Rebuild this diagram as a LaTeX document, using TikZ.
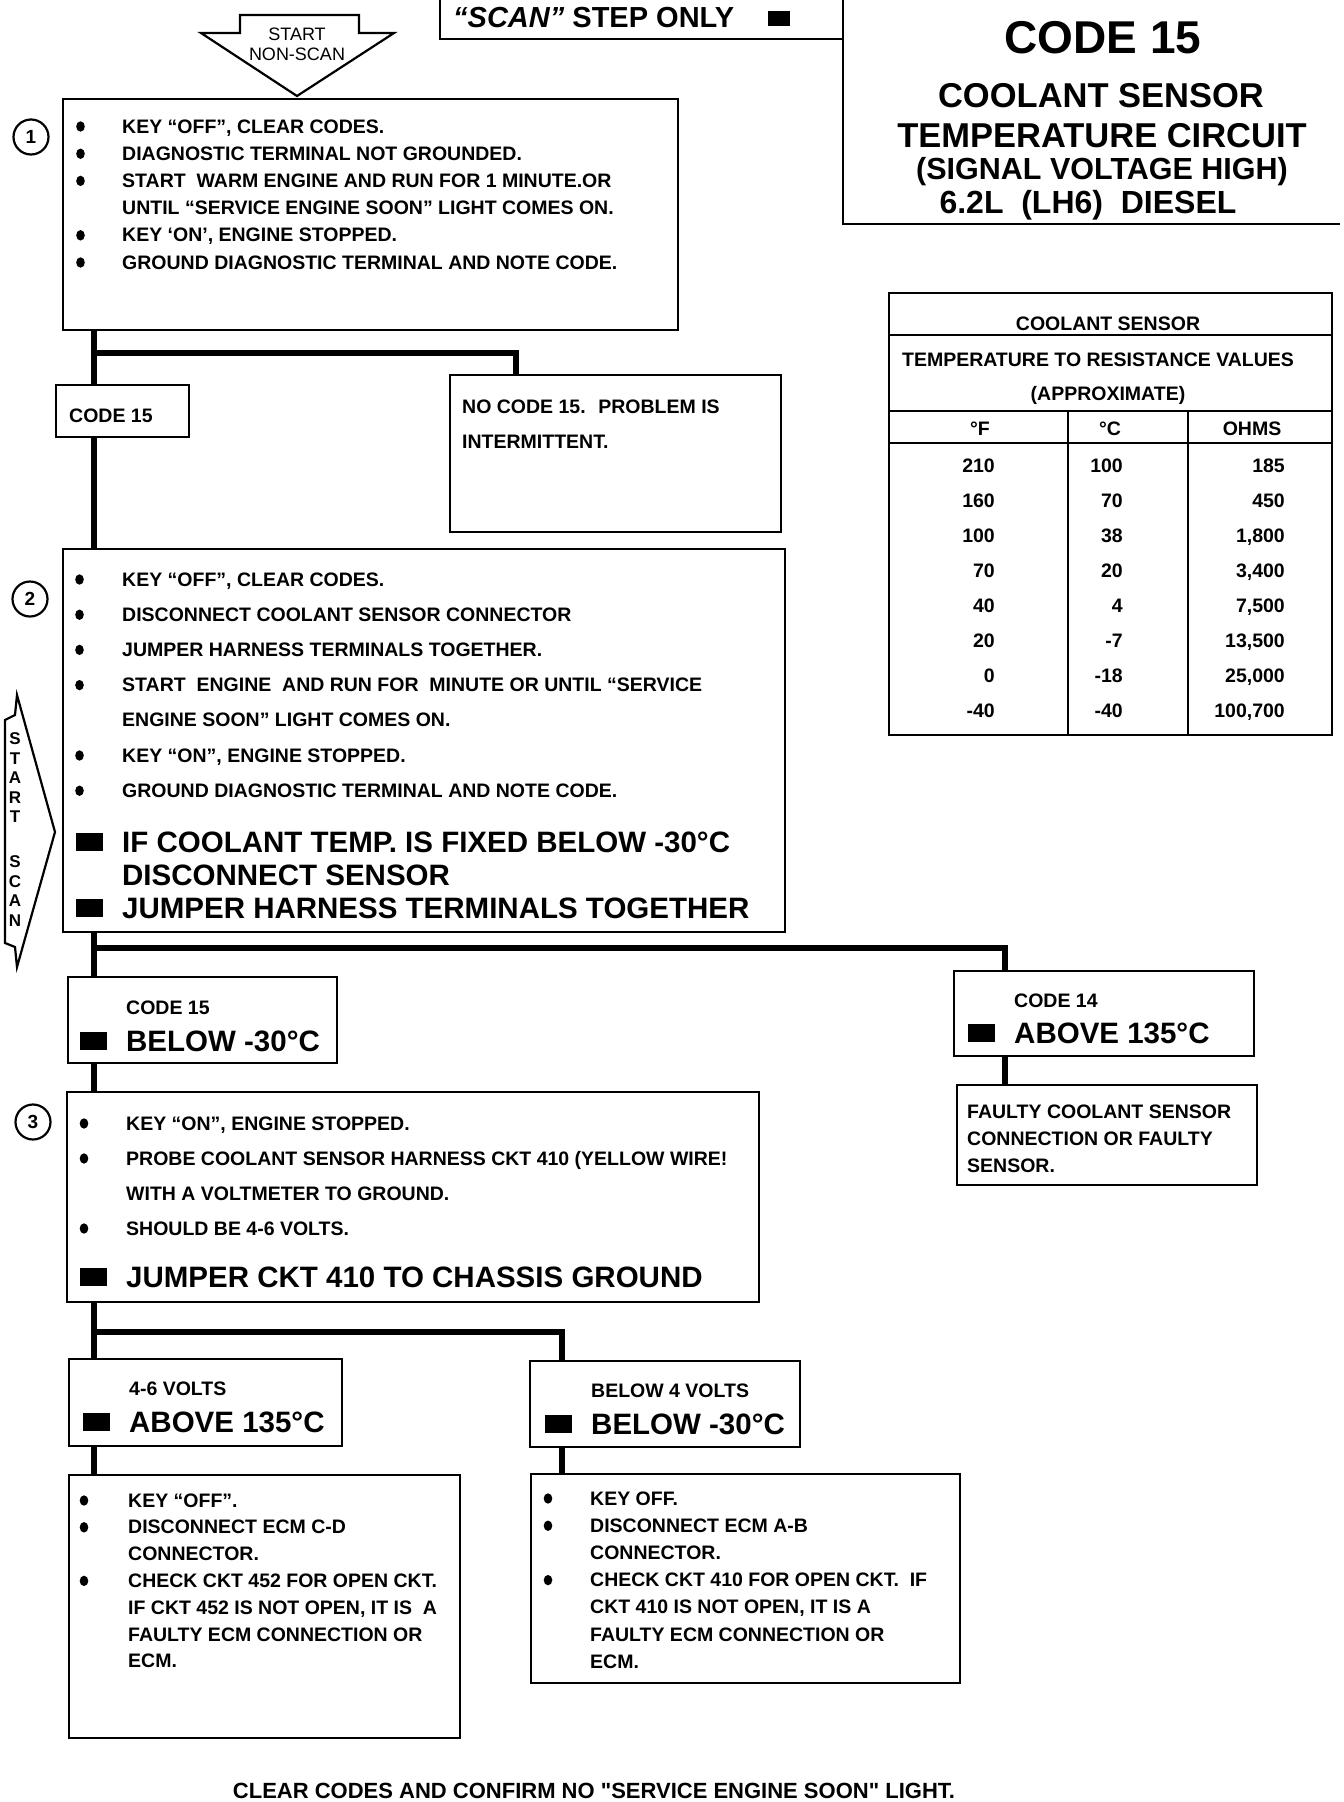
\documentclass[tikz,border=0pt]{standalone}
\usepackage{fontspec}
\setmainfont{Liberation Sans}
\newcommand{\fsz}[2]{\fontsize{#1}{#2}\selectfont}
\newcommand{\lst}[1]{\parbox[t]{760pt}{\raggedright #1}}
\newcommand{\ind}{\hspace*{46pt}}
\newcommand{\blk}{\makebox[46pt][l]{\raisebox{1pt}{\rule{27pt}{18pt}}}}

\begin{document}
\begin{tikzpicture}[x=1pt, y=-1pt,
    box/.style={draw, line width=2.4pt, anchor=north west, inner sep=0pt, outer sep=0pt},
    txt/.style={anchor=base west, inner sep=0pt, font=\bfseries\fsz{19.5}{#1}},
    txt/.default=27,
    big/.style={anchor=base west, inner sep=0pt, font=\bfseries\fsz{29.5}{#1}},
    big/.default=33,
    num/.style={circle, draw, line width=2.2pt, minimum size=35pt, inner sep=0pt, font=\bfseries\fsz{19}{19}},
    conn/.style={line width=6pt},
    frame/.style={line width=2.4pt},
    dot/.style={fill, x radius=4.3, y radius=5.2},
]
    \useasboundingbox (0,0) rectangle (1344,1802);

    \draw[frame] (440,0) -- (440,39) -- (843,39);
    \draw[frame] (843,0) -- (843,224) -- (1340,224);
    \node[anchor=base west, inner sep=0pt, font=\bfseries\fsz{29}{29}] (scanonly) at (453,27) {\textit{``SCAN''}~STEP ONLY\hspace{34pt}\raisebox{1pt}{\rule{22pt}{15pt}}};

    \node[anchor=base, font=\bfseries\fsz{46}{46}] (title) at (1103,53) {CODE 15};
    \node[anchor=base, font=\bfseries\fsz{34.5}{35}] (sub1) at (1101,107) {COOLANT SENSOR};
    \node[anchor=base, font=\bfseries\fsz{34.5}{35}] (sub2) at (1102,147) {TEMPERATURE CIRCUIT};
    \node[anchor=base, font=\bfseries\fsz{30.5}{31}] (sub3) at (1102,179) {(SIGNAL VOLTAGE HIGH)};
    \node[anchor=base, font=\bfseries\fsz{32}{32}] (sub4) at (1088,213) {6.2L~ (LH6)~ DIESEL};

    \draw[frame, line width=2.2pt] (240,15) -- (359,15) -- (359,33) -- (394,33) -- (297,96) -- (201,33) -- (240,33) -- cycle;
    \node[anchor=base, inner sep=0pt, font=\fsz{18}{20}] (nonscan) at (297,40) {\parbox[t]{120pt}{\centering START\\NON-SCAN}};

    \draw[frame, line width=2.2pt] (17,695) -- (55,832) -- (17,967) -- (15,947) -- (5,943) -- (5,720) -- (15,715) -- cycle;
    \node[anchor=base, inner sep=0pt, font=\bfseries\fsz{17}{19.5}] (scanv) at (15,744.5) {\parbox[t]{20pt}{\centering S\\T\\A\\R\\T\\[25.5pt]S\\C\\A\\N}};

    \node[num] (n1) at (31,137) {1};
    \node[num] (n2) at (30,599) {2};
    \node[num] (n3) at (33,1122) {3};

    \node[box, minimum width=615pt, minimum height=231pt] (s1) at (63,99) {};
    \node[txt=27.2] (s1t) at (76,133) {\lst{\ind KEY ``OFF'', CLEAR CODES.\\
        \ind DIAGNOSTIC TERMINAL NOT GROUNDED.\\
        \ind START~ WARM ENGINE AND RUN FOR 1 MINUTE.OR\\
        \ind UNTIL ``SERVICE ENGINE SOON'' LIGHT COMES ON.\\
        \ind KEY `ON', ENGINE STOPPED.\\
        \ind GROUND DIAGNOSTIC TERMINAL AND NOTE CODE.}};
    \foreach \yy in {133,160.2,187.4,241.8,269}
        \path[dot] (80.5,\yy-6.5) ellipse [];

    \node[box, minimum width=133pt, minimum height=52pt] (c15a) at (56,385) {};
    \node[txt] (c15at) at (69,422) {CODE 15};
    \node[box, minimum width=331pt, minimum height=157pt] (nocode) at (450,375) {};
    \node[txt=35] (nocodet) at (462,413) {\lst{NO CODE 15.~ PROBLEM IS\\ INTERMITTENT.}};

    \node[box, minimum width=722pt, minimum height=383pt] (s2) at (63,549) {};
    \node[txt=35.2] (s2t) at (76,586) {\lst{\ind KEY ``OFF'', CLEAR CODES.\\
        \ind DISCONNECT COOLANT SENSOR CONNECTOR\\
        \ind JUMPER HARNESS TERMINALS TOGETHER.\\
        \ind START~ ENGINE~ AND RUN FOR~ MINUTE OR UNTIL ``SERVICE\\
        \ind ENGINE SOON'' LIGHT COMES ON.\\
        \ind KEY ``ON'', ENGINE STOPPED.\\
        \ind GROUND DIAGNOSTIC TERMINAL AND NOTE CODE.}};
    \foreach \yy in {586,621.2,656.4,691.6,762,797.2}
        \path[dot] (79.5,\yy-6.5) ellipse [];
    \node[big] (s2b) at (76,852) {\lst{\blk IF COOLANT TEMP. IS FIXED BELOW -30°C\\
        \ind DISCONNECT SENSOR\\
        \blk JUMPER HARNESS TERMINALS TOGETHER}};

    \node[box, minimum width=269pt, minimum height=86pt] (c15b) at (68,977) {};
    \node[txt=37] (c15bt) at (80,1014) {\lst{\ind CODE 15\\ {\fsz{29.5}{37}\blk BELOW -30°C}}};
    \node[box, minimum width=300pt, minimum height=85pt] (c14) at (954,971) {};
    \node[txt=36] (c14t) at (968,1007) {\lst{\ind CODE 14\\ {\fsz{29.5}{36}\blk ABOVE 135°C}}};
    \node[box, minimum width=300pt, minimum height=100pt] (faulty) at (957,1085) {};
    \node[txt=27] (faultyt) at (967,1118) {\lst{FAULTY COOLANT SENSOR\\ CONNECTION OR FAULTY\\ SENSOR.}};

    \node[box, minimum width=692pt, minimum height=210pt] (s3) at (67,1092) {};
    \node[txt=35] (s3t) at (80,1130) {\lst{\ind KEY ``ON'', ENGINE STOPPED.\\
        \ind PROBE COOLANT SENSOR HARNESS CKT 410 (YELLOW WIRE!\\
        \ind WITH A VOLTMETER TO GROUND.\\
        \ind SHOULD BE 4-6 VOLTS.}};
    \foreach \yy in {1130,1165,1235}
        \path[dot] (84,\yy-6.5) ellipse [];
    \node[big] (s3b) at (80,1287) {\blk JUMPER CKT 410 TO CHASSIS GROUND};

    \node[box, minimum width=273pt, minimum height=87pt] (v46) at (69,1359) {};
    \node[txt=37] (v46t) at (83,1395) {\lst{\ind 4-6 VOLTS\\ {\fsz{29.5}{37}\blk ABOVE 135°C}}};
    \node[box, minimum width=270pt, minimum height=86pt] (vlow) at (530,1361) {};
    \node[txt=37] (vlowt) at (545,1397) {\lst{\ind BELOW 4 VOLTS\\ {\fsz{29.5}{37}\blk BELOW -30°C}}};

    \node[box, minimum width=391pt, minimum height=263pt] (s4a) at (69,1475) {};
    \node[txt=26.8] (s4at) at (82,1507) {\lst{\ind KEY ``OFF''.\\
        \ind DISCONNECT ECM C-D\\
        \ind CONNECTOR.\\
        \ind CHECK CKT 452 FOR OPEN CKT.\\
        \ind IF CKT 452 IS NOT OPEN, IT IS~ A\\
        \ind FAULTY ECM CONNECTION OR\\
        \ind ECM.}};
    \foreach \yy in {1507,1533.8,1587.4}
        \path[dot] (84,\yy-6.5) ellipse [];
    \node[box, minimum width=429pt, minimum height=209pt] (s4b) at (531,1474) {};
    \node[txt=27.2] (s4bt) at (544,1505) {\lst{\ind KEY OFF.\\
        \ind DISCONNECT ECM A-B\\
        \ind CONNECTOR.\\
        \ind CHECK CKT 410 FOR OPEN CKT.~ IF\\
        \ind CKT 410 IS NOT OPEN, IT IS A\\
        \ind FAULTY ECM CONNECTION OR\\
        \ind ECM.}};
    \foreach \yy in {1505,1532.2,1586.6}
        \path[dot] (548,\yy-6.5) ellipse [];

    \node[box, minimum width=443pt, minimum height=442pt] (tab) at (889,293) {};
    \draw[frame] (889,335) -- (1332,335);
    \draw[frame] (889,411) -- (1332,411);
    \draw[frame] (889,443) -- (1332,443);
    \draw[frame] (1068,411) -- (1068,735);
    \draw[frame] (1188,411) -- (1188,735);
    \node[txt, anchor=base] (tabh1) at (1108,330) {COOLANT SENSOR};
    \node[txt, anchor=base] (tabh2) at (1098,366) {TEMPERATURE TO RESISTANCE VALUES};
    \node[txt, anchor=base] (tabh3) at (1108,400) {(APPROXIMATE)};
    \node[txt, anchor=base] (colF) at (980,435) {°F};
    \node[txt, anchor=base] (colC) at (1110,435) {°C};
    \node[txt, anchor=base] (colR) at (1252,435) {OHMS};
    \foreach \f/\c/\r [count=\i] in {210/100/185, 160/70/450, 100/38/{1,800}, 70/20/{3,400}, 40/4/{7,500}, 20/-7/{13,500}, 0/-18/{25,000}, -40/-40/{100,700}} {
        \node[txt, anchor=base east] (tf\i) at (995,437+35*\i) {\f};
        \node[txt, anchor=base east] (tc\i) at (1123,437+35*\i) {\c};
        \node[txt, anchor=base east] (tr\i) at (1285,437+35*\i) {\r};
    }

    \coordinate (trunk) at (94,0);
    \coordinate (br1) at (516,353);
    \coordinate (br2) at (1005,948);
    \coordinate (br3) at (562,1332);
    \draw[conn] (s1.south -| trunk) -- (c15a.north -| trunk);
    \draw[conn] (br1 -| trunk) -- (br1) -- (nocode.north -| br1);
    \draw[conn] (c15a.south -| trunk) -- (s2.north -| trunk);
    \draw[conn] (s2.south -| trunk) -- (c15b.north -| trunk);
    \draw[conn] (br2 -| trunk) -- (br2) -- (c14.north -| br2);
    \draw[conn] (c14.south -| br2) -- (faulty.north -| br2);
    \draw[conn] (c15b.south -| trunk) -- (s3.north -| trunk);
    \draw[conn] (s3.south -| trunk) -- (v46.north -| trunk);
    \draw[conn] (br3 -| trunk) -- (br3) -- (vlow.north -| br3);
    \draw[conn] (v46.south -| trunk) -- (s4a.north -| trunk);
    \draw[conn] (vlow.south -| br3) -- (s4b.north -| br3);

    \node[anchor=base, inner sep=0pt, font=\bfseries\fsz{22}{22}] (clear) at (594,1798) {CLEAR CODES AND CONFIRM NO \textquotedbl SERVICE ENGINE SOON\textquotedbl\ LIGHT.};
\end{tikzpicture}
\end{document}
